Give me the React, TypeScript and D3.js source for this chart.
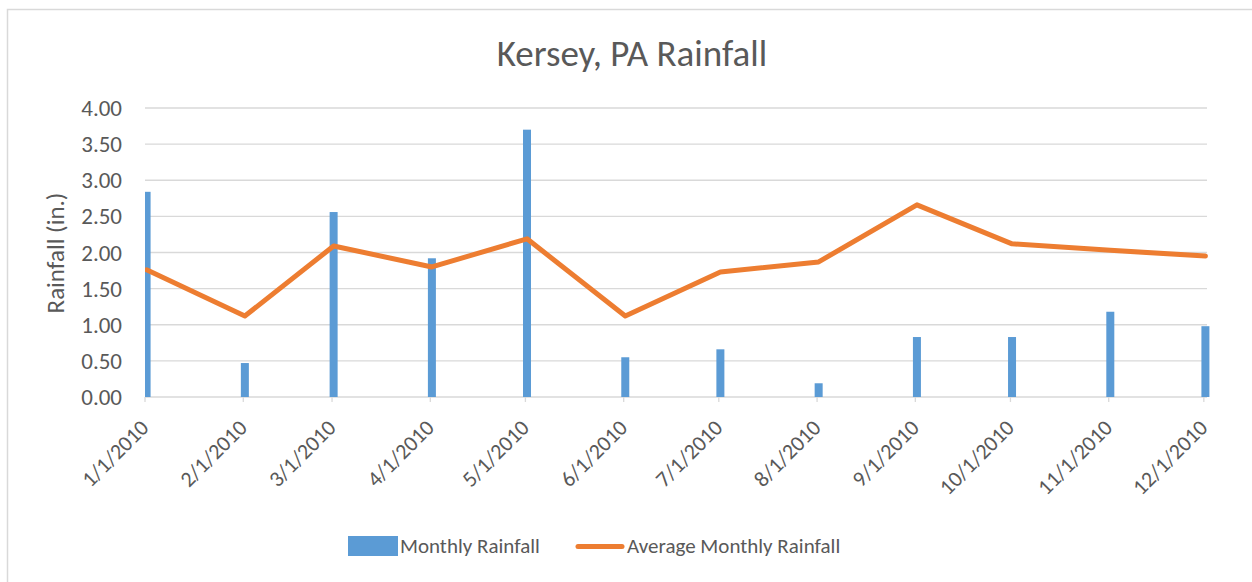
import React, { useEffect, useRef } from "react";
import * as d3 from "d3";

// values
const dates = [
  "1/1/2010", "2/1/2010", "3/1/2010", "4/1/2010", "5/1/2010", "6/1/2010",
  "7/1/2010", "8/1/2010", "9/1/2010", "10/1/2010", "11/1/2010", "12/1/2010"
];
const monthlyRainfall = [2.84, 0.47, 2.56, 1.92, 3.70, 0.55, 0.66, 0.19, 0.83, 0.83, 1.18, 0.98];
const averageRainfall = [1.76, 1.12, 2.09, 1.80, 2.19, 1.12, 1.73, 1.87, 2.66, 2.12, 2.03, 1.95];
const yTicks = [0, 0.5, 1, 1.5, 2, 2.5, 3, 3.5, 4];

const width = 1252;
const height = 582;
const font = "Calibri, Carlito, Lato, sans-serif";
const textColor = "#595959";
const gridColor = "#d9d9d9";
const barColor = "#5b9bd5";
const lineColor = "#ed7d31";

const margin = { top: 108, right: 45, bottom: 185, left: 145 };

function drawChart(el: SVGSVGElement) {
  const svg = d3.select(el);
  svg.selectAll("*").remove();

  const parse = d3.utcParse("%m/%d/%Y");
  const data = dates.map((d, i) => ({
    label: d,
    date: parse(d) as Date,
    rain: monthlyRainfall[i],
    avg: averageRainfall[i]
  }));

  const first = data[0].date;
  const last = data[data.length - 1].date;

  // date axis: one day past the last date, points sit in the middle of their day
  const x = d3.scaleUtc()
    .domain([first, d3.utcDay.offset(last, 1)])
    .range([margin.left, width - margin.right]);
  const mid = (d: Date) => x(d3.utcHour.offset(d, 12));

  const y = d3.scaleLinear()
    .domain([0, 4])
    .range([height - margin.bottom, margin.top]);

  svg.append("rect")
    .attr("width", width).attr("height", height)
    .attr("fill", "#fff");

  // chart area border
  svg.append("rect")
    .attr("x", 7.5).attr("y", 9.5)
    .attr("width", width + 20).attr("height", height + 20)
    .attr("fill", "none")
    .attr("stroke", gridColor)
    .attr("stroke-width", 1.5);

  svg.append("defs").append("clipPath")
    .attr("id", "plotClip")
    .append("rect")
    .attr("x", margin.left).attr("y", 0)
    .attr("width", width).attr("height", height);

  // title
  svg.append("text")
    .attr("x", 632).attr("y", 66)
    .attr("text-anchor", "middle")
    .attr("font-family", font)
    .attr("font-size", 37)
    .attr("fill", textColor)
    .text("Kersey, PA Rainfall");

  // gridlines
  svg.append("g")
    .selectAll("line")
    .data(yTicks)
    .enter()
    .append("line")
    .attr("x1", margin.left).attr("x2", width - margin.right)
    .attr("y1", d => y(d)).attr("y2", d => y(d))
    .attr("stroke", gridColor)
    .attr("stroke-width", 1.3);

  // y tick labels
  svg.append("g")
    .selectAll("text")
    .data(yTicks)
    .enter()
    .append("text")
    .attr("x", 122)
    .attr("y", d => y(d))
    .attr("dy", "0.35em")
    .attr("text-anchor", "end")
    .attr("font-family", font)
    .attr("font-size", 23)
    .attr("fill", textColor)
    .text(d => d3.format(".2f")(d));

  // y axis title
  svg.append("text")
    .attr("transform", "translate(64, 253) rotate(-90)")
    .attr("text-anchor", "middle")
    .attr("font-family", font)
    .attr("font-size", 25)
    .attr("fill", textColor)
    .text("Rainfall (in.)");

  // x axis ticks
  svg.append("g")
    .selectAll("line")
    .data(data)
    .enter()
    .append("line")
    .attr("x1", d => x(d.date)).attr("x2", d => x(d.date))
    .attr("y1", y(0)).attr("y2", y(0) + 5)
    .attr("stroke", gridColor)
    .attr("stroke-width", 1.3);

  // bars
  const barW = 8;
  svg.append("g")
    .attr("clip-path", "url(#plotClip)")
    .selectAll("rect")
    .data(data)
    .enter()
    .append("rect")
    .attr("x", d => mid(d.date) - barW / 2)
    .attr("width", barW)
    .attr("y", d => y(d.rain))
    .attr("height", d => y(0) - y(d.rain))
    .attr("fill", barColor);

  // average line
  const line = d3.line<typeof data[0]>()
    .x(d => mid(d.date))
    .y(d => y(d.avg));

  svg.append("path")
    .datum(data)
    .attr("clip-path", "url(#plotClip)")
    .attr("d", line)
    .attr("fill", "none")
    .attr("stroke", lineColor)
    .attr("stroke-width", 5)
    .attr("stroke-linejoin", "round")
    .attr("stroke-linecap", "round");

  // x tick labels
  svg.append("g")
    .selectAll("text")
    .data(data)
    .enter()
    .append("text")
    .attr("transform", d => `translate(${x(d.date) + 5}, 429) rotate(-45)`)
    .attr("text-anchor", "end")
    .attr("font-family", font)
    .attr("font-size", 22)
    .attr("fill", textColor)
    .text(d => d.label);

  // legend
  const legend = svg.append("g").attr("font-family", font).attr("font-size", 21).attr("fill", textColor);
  legend.append("rect")
    .attr("x", 348).attr("y", 536)
    .attr("width", 50).attr("height", 20)
    .attr("fill", barColor);
  legend.append("text")
    .attr("x", 400).attr("y", 553)
    .text("Monthly Rainfall");
  legend.append("line")
    .attr("x1", 578).attr("x2", 622)
    .attr("y1", 546.5).attr("y2", 546.5)
    .attr("stroke", lineColor)
    .attr("stroke-width", 5)
    .attr("stroke-linecap", "round");
  legend.append("text")
    .attr("x", 627).attr("y", 553)
    .text("Average Monthly Rainfall");
}

export default function App() {
  const ref = useRef<SVGSVGElement>(null);

  useEffect(() => {
    if (ref.current) drawChart(ref.current);
  }, []);

  return (
    <svg
      ref={ref}
      width={width}
      height={height}
      style={{ position: "absolute", left: 0, top: 0, display: "block" }}
    />
  );
}
